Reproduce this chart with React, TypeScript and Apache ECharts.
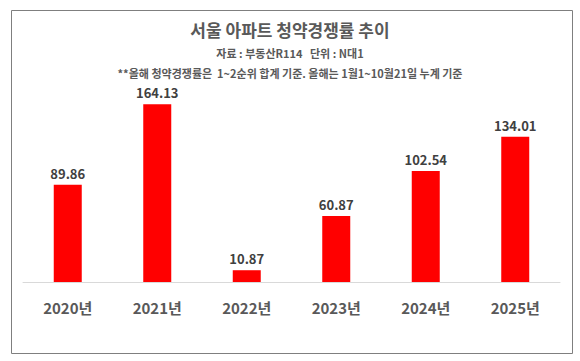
import React, { useEffect, useRef } from "react";
import * as echarts from "echarts";

const categories = ["2020년", "2021년", "2022년", "2023년", "2024년", "2025년"];
const values = [89.86, 164.13, 10.87, 60.87, 102.54, 134.01];
const titleText = "서울 아파트 청약경쟁률 추이";
const sourceText = "자료 : 부동산R114   단위 : N대1";
const noteText = "**올해 청약경쟁률은  1~2순위 합계 기준. 올해는 1월1~10월21일 누계 기준";

const FONT = "'Noto Sans CJK KR', 'Noto Sans', sans-serif";

export default function App() {
  const ref = useRef<HTMLDivElement>(null);
  useEffect(() => {
    document.body.style.margin = "0";
    const chart = echarts.init(ref.current!, null, { renderer: "svg" });
    chart.setOption({
      animation: false,
      backgroundColor: "#ffffff",
      textStyle: { fontFamily: FONT },
      graphic: [
        {
          type: "rect",
          shape: { x: 11.5, y: 10.5, width: 561, height: 343 },
          style: { fill: "none", stroke: "#7f7f7f", lineWidth: 1 },
          silent: true,
        },
        {
          type: "text",
          left: "center",
          top: 21,
          style: { text: titleText, font: `bold 17px ${FONT}`, fill: "#595959" },
        },
        {
          type: "text",
          left: "center",
          top: 47,
          style: { text: sourceText, font: `bold 11px ${FONT}`, fill: "#595959" },
        },
        {
          type: "text",
          left: "center",
          top: 67,
          style: { text: noteText, font: `bold 11px ${FONT}`, fill: "#595959" },
        },
      ],
      grid: { left: 23, right: 20, top: 87, bottom: 79, containLabel: false },
      xAxis: {
        type: "category",
        data: categories,
        axisLine: { lineStyle: { color: "#d9d9d9", width: 1 } },
        axisTick: { show: false },
        axisLabel: {
          color: "#595959",
          fontSize: 15,
          fontWeight: "bold",
          fontFamily: FONT,
          margin: 18,
        },
      },
      yAxis: {
        type: "value",
        min: 0,
        max: 180,
        show: false,
        splitLine: { show: false },
      },
      series: [
        {
          type: "bar",
          data: values,
          barWidth: 28,
          itemStyle: { color: "#ff0000" },
          label: {
            show: true,
            position: "top",
            distance: 5,
            color: "#404040",
            fontSize: 13,
            fontWeight: "bold",
            fontFamily: FONT,
            formatter: (p: any) => p.value.toFixed(2),
          },
        },
      ],
    });
    return () => chart.dispose();
  }, []);
  return <div ref={ref} style={{ width: 580, height: 361 }} />;
}
